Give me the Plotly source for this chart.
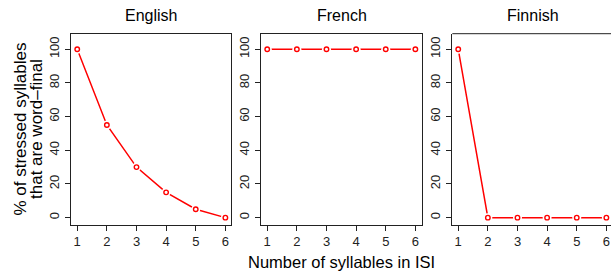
import plotly.graph_objects as go

W, H = 611, 271

syllables = [1, 2, 3, 4, 5, 6]
english = [100, 55, 30, 15, 5, 0]
french = [100, 100, 100, 100, 100, 100]
finnish = [100, 0, 0, 0, 0, 0]
panel_titles = ["English", "French", "Finnish"]
y_ticks = [0, 20, 40, 60, 80, 100]
y_title_lines = ["% of stressed syllables", "that are word\u2013final"]
x_title = "Number of syllables in ISI"

series = [english, french, finnish]

# pixel boxes (left, right) for each panel
px_boxes = [(71.3, 231.3), (261.3, 422.3), (452.3, 613.3)]
top_px, bot_px = 33.7, 224.7

FONT = "Liberation Sans, Arial, Helvetica, sans-serif"
RED = "#ff0000"
AX = "#222222"

fig = go.Figure()
unit = (px_boxes[0][1] - px_boxes[0][0]) / 5.4

for i, (vals, (l, r)) in enumerate(zip(series, px_boxes)):
    xa = "x" if i == 0 else f"x{i+1}"
    ya = "y" if i == 0 else f"y{i+1}"
    fig.add_trace(go.Scatter(x=syllables, y=vals, mode="lines", xaxis=xa, yaxis=ya,
                             line=dict(color=RED, width=1.5), hoverinfo="skip", showlegend=False))
    fig.add_trace(go.Scatter(x=syllables, y=vals, mode="markers", xaxis=xa, yaxis=ya,
                             marker=dict(color="white", size=9, line=dict(width=0)),
                             hoverinfo="skip", showlegend=False))
    fig.add_trace(go.Scatter(x=syllables, y=vals, mode="markers", xaxis=xa, yaxis=ya,
                             marker=dict(symbol="circle-open", color=RED, size=4.5,
                                         line=dict(width=1.4, color=RED)),
                             showlegend=False))

    clipped = r > W
    d0 = l / W
    d1 = min(r / W, 1.0)
    x_lo = 0.8
    x_hi = x_lo + (min(r, W) - l) / unit
    axis_common = dict(showgrid=False, zeroline=False, showline=True, linecolor=AX,
                       linewidth=1, ticks="outside", ticklen=5, tickcolor=AX,
                       tickwidth=1, tickfont=dict(family=FONT, size=13, color=AX),
                       automargin=False)
    xkey = "xaxis" if i == 0 else f"xaxis{i+1}"
    ykey = "yaxis" if i == 0 else f"yaxis{i+1}"
    fig.layout[xkey] = dict(domain=[d0, d1], range=[x_lo, x_hi], anchor=ya,
                            tickvals=syllables, mirror=not clipped,
                            ticklabelstandoff=0, **axis_common)
    fig.layout[ykey] = dict(domain=[1 - bot_px / H, 1 - top_px / H], range=[-4.2, 109.2],
                            anchor=xa, tickvals=y_ticks, tickangle=-90,
                            mirror=not clipped, ticklabelstandoff=1, **axis_common)
    cx = (l + r) / 2 / W
    fig.add_annotation(x=cx, y=1 - 16 / H, xref="paper", yref="paper",
                       text=panel_titles[i], showarrow=False,
                       font=dict(family=FONT, size=16, color="black"),
                       xanchor="center", yanchor="middle")

fig.add_shape(type="line", xref="paper", yref="paper", x0=px_boxes[2][0] / W, x1=1.0,
              y0=1 - top_px / H, y1=1 - top_px / H, line=dict(color=AX, width=1))

for k, (line_txt, xc) in enumerate(zip(y_title_lines, [19.5, 36.0])):
    fig.add_annotation(x=xc / W, y=1 - 129 / H, xref="paper", yref="paper",
                       text=line_txt, showarrow=False, textangle=-90,
                       font=dict(family=FONT, size=17, color="black"),
                       xanchor="center", yanchor="middle")
fig.add_annotation(x=341 / W, y=1 - 262 / H, xref="paper", yref="paper",
                   text=x_title, showarrow=False,
                   font=dict(family=FONT, size=16.5, color="black"),
                   xanchor="center", yanchor="middle")

fig.update_layout(width=W, height=H, margin=dict(l=0, r=0, t=0, b=0),
                  plot_bgcolor="white", paper_bgcolor="white")

fig.write_html("out.html", config={"displayModeBar": False},
               post_script="document.body.style.margin='0';")
